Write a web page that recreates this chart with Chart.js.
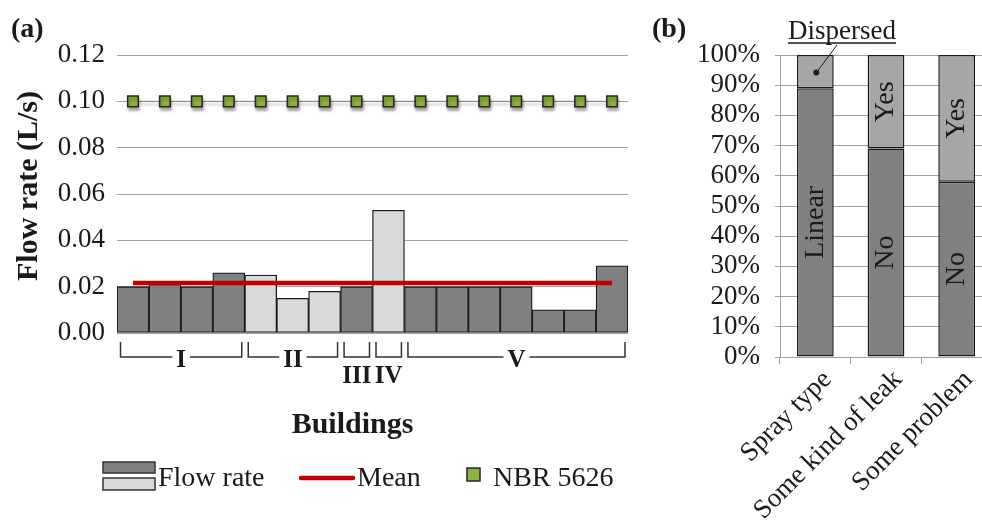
<!DOCTYPE html>
<html>
<head>
<meta charset="utf-8">
<script src="https://cdn.jsdelivr.net/npm/chart.js@4.4.0/dist/chart.umd.min.js"></script>
<style>
  html, body { margin: 0; padding: 0; background: #fff; overflow: hidden; width: 982px; height: 523px; }
  #panelA { position: absolute; left: 0; top: 0; width: 640px; height: 523px; }
  #panelB { position: absolute; left: 640px; top: 0; width: 352px; height: 523px; }
</style>
</head>
<body>
<div id="panelA"><canvas id="flow" width="640" height="523"></canvas></div>
<div id="panelB"><canvas id="survey" width="352" height="523"></canvas></div>
<script>
// ---- (a) flow rate per fixture, grouped by building ----
const buildingOf = ['I', 'I', 'I', 'I', 'II', 'II', 'II', 'III', 'IV', 'V', 'V', 'V', 'V', 'V', 'V', 'V'];
const flowRate = [0.020, 0.021, 0.020, 0.026, 0.025, 0.015, 0.018, 0.020, 0.053, 0.020, 0.020, 0.020, 0.020, 0.010, 0.010, 0.029];
const meanFlow = 0.0216;
const nbrLimit = 0.10;
const lightBuildings = ['II', 'IV'];

const groupLabels = ['I', 'II', 'III', 'IV', 'V'];
const groupFirst = [0, 4, 7, 8, 9];
const groupLast = [3, 6, 7, 8, 15];
const groupRow = [0, 0, 1, 1, 0];

// ---- (b) survey shares ----
const surveyCategories = ['Spray type', 'Some kind of leak', 'Some problem'];
const lowerShare = [89, 69, 58];
const upperShare = [11, 31, 42];
const lowerLabels = ['Linear', 'No', 'No'];
const upperLabels = ['', 'Yes', 'Yes'];
const calloutText = 'Dispersed';

const SERIF = "'Liberation Serif', 'Times New Roman', serif";
const INK = '#1a1a1a';
const GRID = '#a0a0a0';
const DARK = '#808080';
const LIGHT = '#d9d9d9';
const MID = '#a6a6a6';
const RED = '#c00000';
const GREEN = '#8cb43c';

Chart.defaults.font.family = SERIF;
Chart.defaults.color = INK;

// shadow under the NBR markers, group brackets, titles and legend
const flowDecor = {
  id: 'flowDecor',
  beforeDatasetDraw(chart, args) {
    if (args.index === 0) {
      const c = chart.ctx;
      c.save();
      c.shadowColor = 'rgba(0,0,0,0.35)';
      c.shadowOffsetX = 1;
      c.shadowOffsetY = 3;
      c.shadowBlur = 3;
    }
  },
  afterDatasetDraw(chart, args) {
    if (args.index === 0) chart.ctx.restore();
  },
  afterDraw(chart) {
    const c = chart.ctx;
    const a = chart.chartArea;
    const x = chart.scales.x;
    const half = (x.getPixelForValue(1) - x.getPixelForValue(0)) / 2;
    c.save();

    // building brackets
    c.strokeStyle = '#333';
    c.lineWidth = 1.5;
    c.fillStyle = INK;
    c.font = 'bold 25px ' + SERIF;
    c.textAlign = 'center';
    c.textBaseline = 'alphabetic';
    const top = a.bottom + 9;
    const base = a.bottom + 24;
    groupLabels.forEach((g, k) => {
      const l = x.getPixelForValue(groupFirst[k]) - half + 3.5;
      const r = x.getPixelForValue(groupLast[k]) + half - 3;
      const cx = (l + r) / 2;
      c.beginPath();
      c.moveTo(l, top);
      c.lineTo(l, base);
      if (groupRow[k] === 0) {
        const w = c.measureText(g).width / 2 + 4;
        c.lineTo(cx - w, base);
        c.moveTo(cx + w, base);
      }
      c.lineTo(r, base);
      c.lineTo(r, top);
      c.stroke();
      c.fillText(g, cx, groupRow[k] === 0 ? base + 10 : base + 26);
    });

    // axis titles and panel tag
    c.font = 'bold 30px ' + SERIF;
    c.fillText('Buildings', (a.left + a.right) / 2 - 20, 433);
    c.save();
    c.translate(29, 186);
    c.rotate(-Math.PI / 2);
    c.textBaseline = 'middle';
    c.fillText('Flow rate (L/s)', 0, 0);
    c.restore();
    c.font = 'bold 28px ' + SERIF;
    c.textAlign = 'left';
    c.fillText('(a)', 11, 37);

    // legend
    c.lineWidth = 1.5;
    c.strokeStyle = '#333';
    c.fillStyle = DARK;
    c.fillRect(103, 462, 52, 11);
    c.strokeRect(103, 462, 52, 11);
    c.fillStyle = LIGHT;
    c.fillRect(103, 478, 52, 12);
    c.strokeRect(103, 478, 52, 12);
    c.strokeStyle = RED;
    c.lineWidth = 4.5;
    c.lineCap = 'round';
    c.beginPath();
    c.moveTo(301, 478);
    c.lineTo(353, 478);
    c.stroke();
    c.fillStyle = GREEN;
    c.strokeStyle = '#262626';
    c.lineWidth = 1.5;
    c.fillRect(467, 468, 13, 13);
    c.strokeRect(467, 468, 13, 13);
    c.fillStyle = INK;
    c.font = '28px ' + SERIF;
    c.fillText('Flow rate', 158, 486);
    c.fillText('Mean', 357, 486);
    c.fillText('NBR 5626', 493, 486);
    c.restore();
  }
};

new Chart(document.getElementById('flow'), {
  type: 'bar',
  data: {
    labels: flowRate.map((_, i) => String(i + 1)),
    datasets: [
      {
        type: 'line', label: 'NBR 5626', data: flowRate.map(() => nbrLimit),
        borderColor: '#8a8a8a', borderWidth: 1,
        pointStyle: 'rect', pointRadius: 7.5,
        pointBackgroundColor: GREEN, pointBorderColor: '#262626', pointBorderWidth: 1.5,
        order: 1
      },
      {
        type: 'line', label: 'Mean', data: flowRate.map(() => meanFlow),
        borderColor: RED, borderWidth: 4.5, pointRadius: 0, order: 2
      },
      {
        type: 'bar', label: 'Flow rate', data: flowRate,
        backgroundColor: buildingOf.map(b => lightBuildings.includes(b) ? LIGHT : DARK),
        borderColor: INK, borderWidth: 1.3, borderSkipped: false,
        categoryPercentage: 1, barPercentage: 1, order: 3
      }
    ]
  },
  options: {
    responsive: false, animation: false, events: [],
    layout: { padding: { top: 55, bottom: 190, right: 12, left: 0 } },
    plugins: { legend: { display: false }, tooltip: { enabled: false } },
    scales: {
      x: { display: false, offset: true },
      y: {
        min: 0, max: 0.12,
        ticks: { stepSize: 0.02, autoSkip: false, padding: 12, font: { size: 27 }, color: INK, callback: v => v.toFixed(2) },
        grid: { color: GRID, lineWidth: 1, drawTicks: false },
        border: { display: false },
        afterFit(s) { s.width = 117; }
      }
    }
  },
  plugins: [flowDecor]
});

// segment labels, the callout and the panel tag
const surveyDecor = {
  id: 'surveyDecor',
  afterDatasetsDraw(chart) {
    const c = chart.ctx;
    c.save();
    c.fillStyle = INK;
    c.font = '28px ' + SERIF;
    c.textAlign = 'center';
    c.textBaseline = 'middle';
    chart.data.datasets.forEach((ds, di) => {
      const meta = chart.getDatasetMeta(di);
      meta.data.forEach((el, i) => {
        const txt = ds.segmentLabels[i];
        if (!txt) return;
        c.save();
        c.translate(el.x, (el.y + el.base) / 2);
        c.rotate(-Math.PI / 2);
        c.fillText(txt, 0, 0);
        c.restore();
      });
    });
    c.restore();
  },
  afterDraw(chart) {
    const c = chart.ctx;
    const el = chart.getDatasetMeta(1).data[0];
    const dotX = el.x + 1;
    const dotY = (el.y + el.base) / 2 + 1;
    c.save();
    c.fillStyle = INK;
    c.font = '27px ' + SERIF;
    c.textAlign = 'center';
    c.textBaseline = 'alphabetic';
    c.fillText(calloutText, 202, 39);
    const w = c.measureText(calloutText).width;
    c.strokeStyle = INK;
    c.lineWidth = 1.3;
    c.beginPath();
    c.moveTo(202 - w / 2, 43);
    c.lineTo(202 + w / 2, 43);
    c.stroke();
    c.lineWidth = 1;
    c.beginPath();
    c.moveTo(197, 45);
    c.lineTo(dotX, dotY);
    c.stroke();
    c.beginPath();
    c.arc(dotX, dotY, 3, 0, Math.PI * 2);
    c.fill();
    c.font = 'bold 28px ' + SERIF;
    c.textAlign = 'left';
    c.fillText('(b)', 12, 37);
    c.restore();
  }
};

new Chart(document.getElementById('survey'), {
  type: 'bar',
  data: {
    labels: surveyCategories,
    datasets: [
      {
        label: 'lower', data: lowerShare, segmentLabels: lowerLabels,
        backgroundColor: DARK, borderColor: INK, borderWidth: 1.5, borderSkipped: false,
        categoryPercentage: 1, barPercentage: 0.52
      },
      {
        label: 'upper', data: upperShare, segmentLabels: upperLabels,
        backgroundColor: MID, borderColor: INK, borderWidth: 1.5, borderSkipped: false,
        categoryPercentage: 1, barPercentage: 0.52
      }
    ]
  },
  options: {
    responsive: false, animation: false, events: [],
    layout: { padding: { top: 55, left: 0, right: 0, bottom: 0 } },
    plugins: { legend: { display: false }, tooltip: { enabled: false } },
    scales: {
      x: {
        stacked: true,
        grid: { drawOnChartArea: false, tickLength: 7, color: GRID, offset: true },
        border: { color: GRID },
        ticks: { minRotation: 45, maxRotation: 45, autoSkip: false, labelOffset: 12, font: { size: 27 }, color: INK, padding: 0 },
        afterFit(s) { s.height = 166; }
      },
      y: {
        stacked: true, min: 0, max: 100,
        ticks: { stepSize: 10, autoSkip: false, padding: 15, font: { size: 27 }, color: INK, callback: v => v + '%' },
        grid: { color: GRID, tickLength: 5 },
        border: { color: GRID },
        afterFit(s) { s.width = 140; }
      }
    }
  },
  plugins: [surveyDecor]
});
</script>
</body>
</html>
